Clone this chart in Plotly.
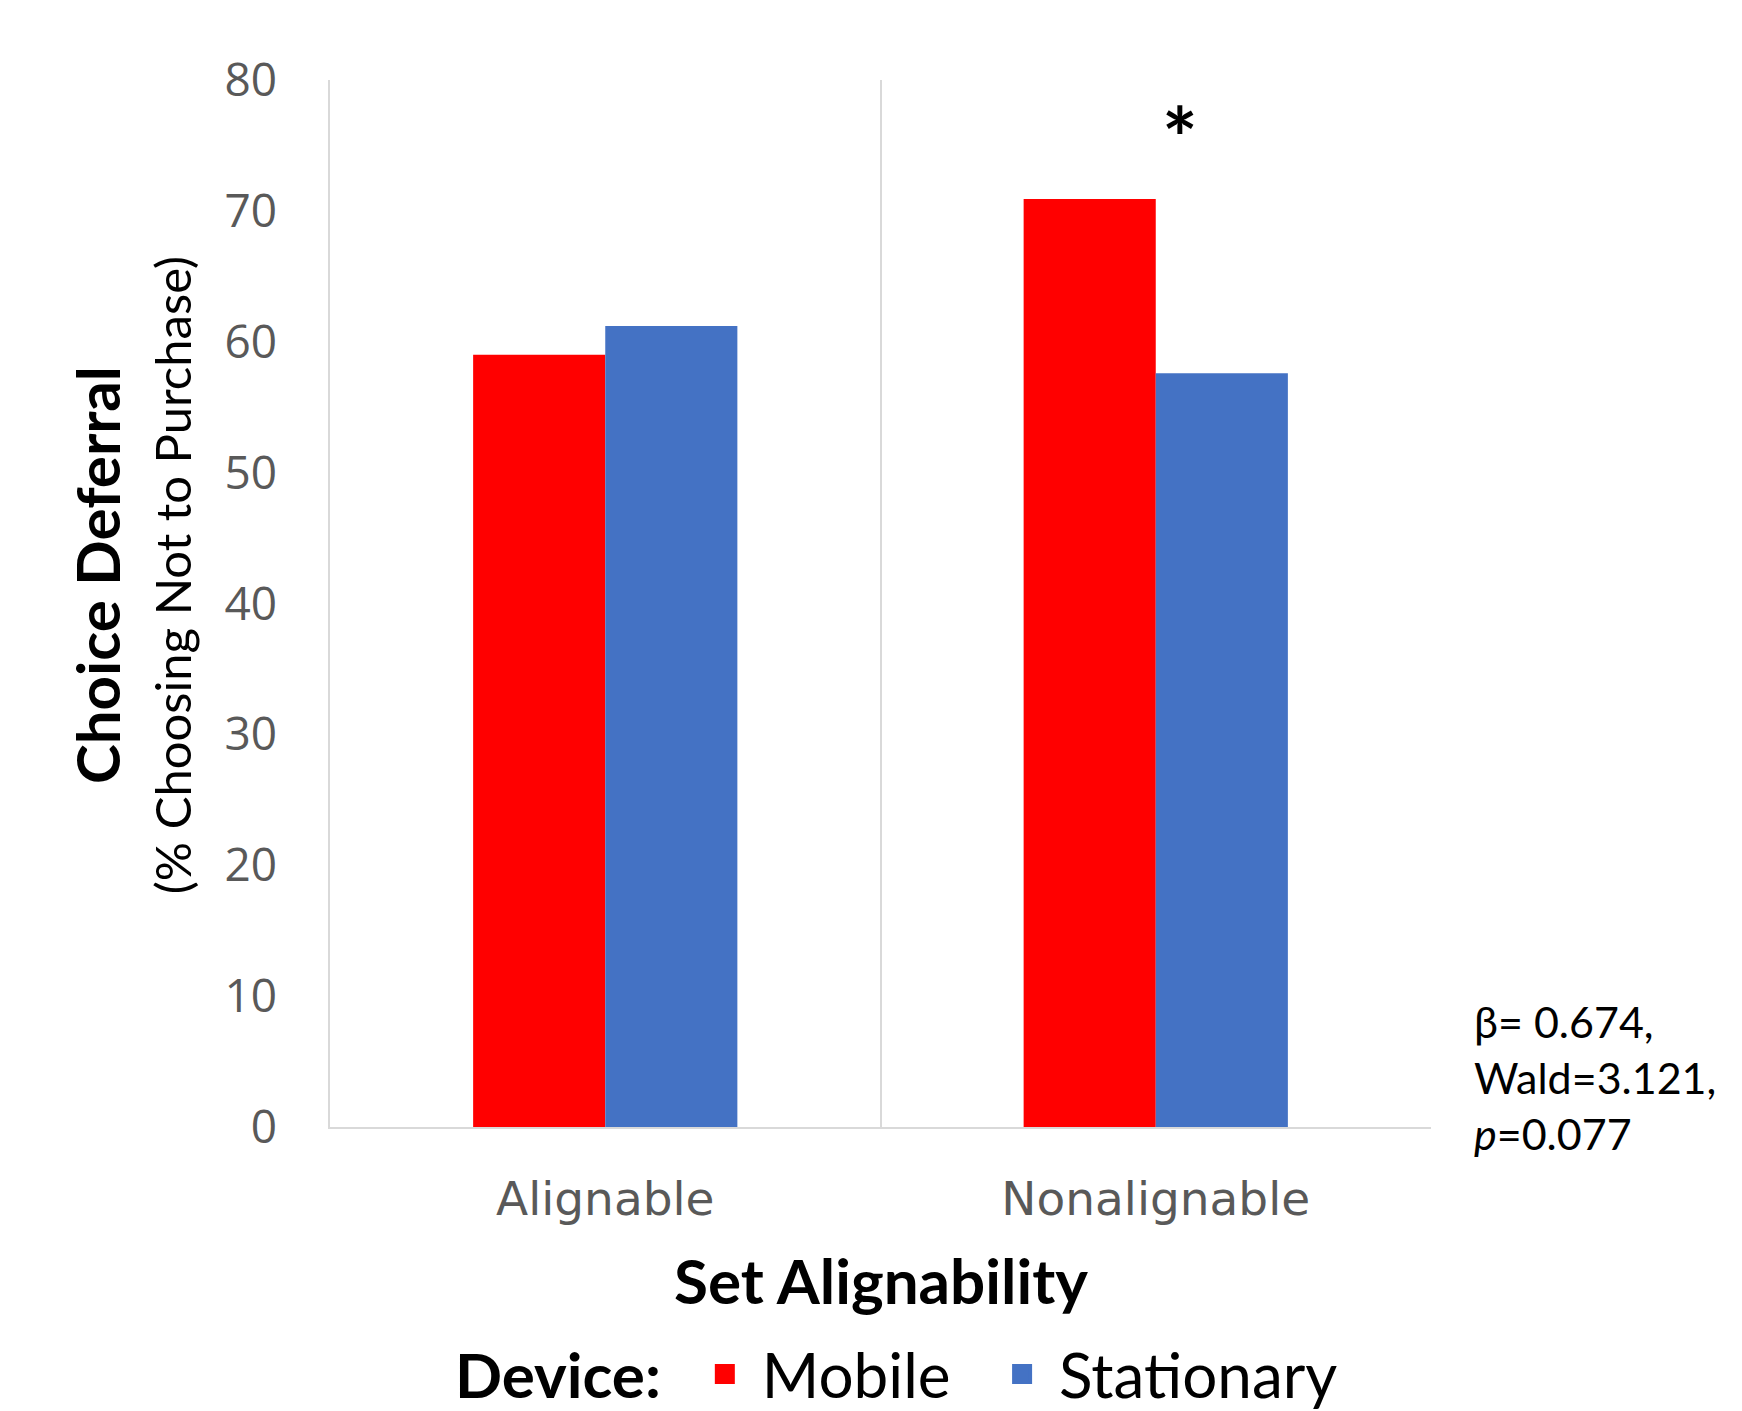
import plotly.graph_objects as go

categories = ["Alignable", "Nonalignable"]
mobile = [59.0, 70.9]
stationary = [61.2, 57.6]
y_ticks = [0, 10, 20, 30, 40, 50, 60, 70, 80]

RED = "#FF0000"
BLUE = "#4472C4"
GRID = "#D9D9D9"
TICK = "#595959"

fig = go.Figure()
fig.add_trace(go.Bar(name="Mobile", x=categories, y=mobile, showlegend=False,
                     marker=dict(color=RED, line=dict(width=0))))
fig.add_trace(go.Bar(name="Stationary", x=categories, y=stationary, showlegend=False,
                     marker=dict(color=BLUE, line=dict(width=0))))
# legend swatches (one legend box per entry to control spacing)
for nm, col, lg in [("Mobile", RED, "legend"), ("Stationary", BLUE, "legend2")]:
    fig.add_trace(go.Scatter(name=nm, x=[None], y=[None], mode="markers", legend=lg,
                             marker=dict(symbol="square", size=22, color=col,
                                         line=dict(width=4, color=col))))

LEG_Y = -0.236
leg_common = dict(orientation="h", xanchor="left", y=LEG_Y, yanchor="middle",
                  font=dict(family="Lato", size=62, color="black"), itemwidth=64,
                  bgcolor="rgba(0,0,0,0)")

fig.update_layout(
    width=1742, height=1411,
    paper_bgcolor="white", plot_bgcolor="white",
    margin=dict(l=322, r=319, t=72, b=292, autoexpand=False),
    barmode="group", bargap=0.52, bargroupgap=0,
    font=dict(family="Lato", color="black"),
    showlegend=True,
    legend=dict(x=0.325, **leg_common),
    legend2=dict(x=0.595, **leg_common),
)

fig.update_xaxes(
    type="category", tickson="boundaries", showgrid=True, gridcolor=GRID, gridwidth=1.5,
    showline=True, linecolor=GRID, linewidth=1.5, ticks="",
    tickfont=dict(family="DejaVu Sans", size=47, color=TICK), ticklabelstandoff=30,
)
fig.update_yaxes(
    range=[0, 80], tickvals=y_ticks, showgrid=False, zeroline=False,
    showline=True, linecolor=GRID, linewidth=1.5, ticks="",
    tickfont=dict(family="Open Sans", size=46, color=TICK), ticklabelstandoff=42,
)

fig.add_annotation(text="<b>Choice Deferral</b>", textangle=-90, xref="paper", yref="paper",
                   x=-0.211, y=0.527, xanchor="center", yanchor="middle", showarrow=False,
                   font=dict(family="Lato", size=60, color="black"))
fig.add_annotation(text="(% Choosing Not to Purchase)", textangle=-90, xref="paper", yref="paper",
                   x=-0.1435, y=0.527, xanchor="center", yanchor="middle", showarrow=False,
                   font=dict(family="Lato", size=49, color="black"))
fig.add_annotation(text="<b>Set Alignability</b>", xref="paper", yref="paper",
                   x=0.5, y=-0.146, xanchor="center", yanchor="middle", showarrow=False,
                   font=dict(family="Lato", size=62, color="black"))
fig.add_annotation(text="<b>Device:</b>", xref="paper", yref="paper",
                   x=0.207, y=LEG_Y, xanchor="center", yanchor="middle", showarrow=False,
                   font=dict(family="Lato", size=62, color="black"))
fig.add_annotation(text="β= 0.674,<br>Wald=3.121,<br><i>p</i>=0.077", xref="paper", yref="paper",
                   x=1.037, y=0.047, xanchor="left", yanchor="middle", align="left", showarrow=False,
                   font=dict(family="Lato", size=43, color="black"))
fig.add_annotation(text="<b>*</b>", xref="x", yref="paper", x="Nonalignable", xshift=24,
                   y=0.946, xanchor="center", yanchor="middle", showarrow=False,
                   font=dict(family="Lato", size=84, color="black"))

fig.write_html("out.html")
